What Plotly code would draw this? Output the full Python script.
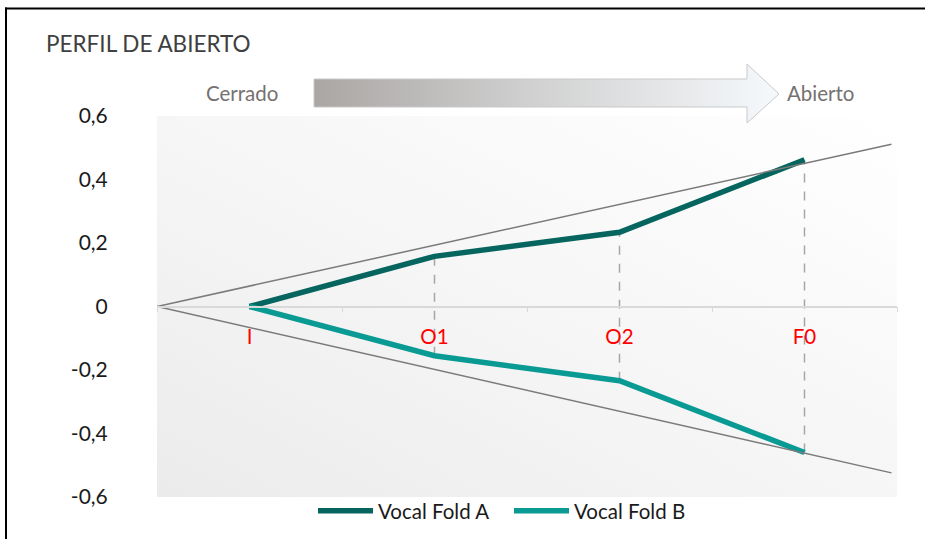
import base64
import plotly.graph_objects as go

# ---- data ----
categories = ["I", "O1", "O2", "F0"]
fold_a = [0, 0.158, 0.234, 0.462]
fold_b = [0, -0.155, -0.234, -0.46]
cone_x = [-0.5, 3.47]
cone_upper = [0, 0.511]
cone_lower = [0, -0.524]
y_tickvals = [-0.6, -0.4, -0.2, 0, 0.2, 0.4, 0.6]
y_ticktext = ["-0,6", "-0,4", "-0,2", "0", "0,2", "0,4", "0,6"]

FONT = "Lato"
W, H = 925, 539
# plot area in page coordinates: x 157..897, y 116..497
L, R, T, B = 157, 925 - 897, 116, 539 - 497

fig = go.Figure()

# high-low dashed lines
for c, a, b in zip(categories, fold_a, fold_b):
    fig.add_trace(go.Scatter(x=[c, c], y=[b, a], mode="lines",
                             line=dict(color="#a6a6a6", width=1.5, dash="dash"),
                             showlegend=False, hoverinfo="skip"))

# cone lines
for cy in (cone_upper, cone_lower):
    fig.add_trace(go.Scatter(x=cone_x, y=cy, xaxis="x2", mode="lines",
                             line=dict(color="#7a7a7a", width=1.5),
                             showlegend=False, hoverinfo="skip"))

fig.add_trace(go.Scatter(x=categories, y=fold_a, mode="lines", name="Vocal Fold A",
                         line=dict(color="#06665f", width=5.5)))
fig.add_trace(go.Scatter(x=categories, y=fold_b, mode="lines", name="Vocal Fold B",
                         line=dict(color="#0a9a94", width=5.5)))

# gradient background of plot area
bg_svg = ('<svg xmlns="http://www.w3.org/2000/svg" width="740" height="381" viewBox="0 0 740 381" preserveAspectRatio="none">'
          '<defs><linearGradient id="g" x1="0" y1="1" x2="1" y2="0">'
          '<stop offset="0" stop-color="#ebebeb"/><stop offset="0.45" stop-color="#f5f5f5"/>'
          '<stop offset="1" stop-color="#ffffff"/></linearGradient></defs>'
          '<rect width="740" height="381" fill="url(#g)"/></svg>')
# arrow
arrow_svg = ('<svg xmlns="http://www.w3.org/2000/svg" width="470" height="62" viewBox="0 0 470 62" preserveAspectRatio="none">'
             '<defs><linearGradient id="a" x1="0" y1="0" x2="1" y2="0">'
             '<stop offset="0" stop-color="#aaa6a4"/><stop offset="0.45" stop-color="#cfcfcf"/>'
             '<stop offset="1" stop-color="#f6f9fc"/></linearGradient></defs>'
             '<path d="M1,16 L434,16 L434,1 L466,31 L434,60 L434,44 L1,44 Z" fill="url(#a)" stroke="#c9c9c9" stroke-width="1"/></svg>')

def uri(s):
    return "data:image/svg+xml;base64," + base64.b64encode(s.encode()).decode()

pw, ph = W - L - R, H - T - B
def px(x):  # page x -> paper
    return (x - L) / pw
def py(y):  # page y -> paper
    return (H - B - y) / ph

fig.update_layout(
    images=[
        dict(source=uri(bg_svg), xref="paper", yref="paper", x=0, y=1, sizex=1, sizey=1,
             sizing="stretch", layer="below", xanchor="left", yanchor="top"),
        dict(source=uri(arrow_svg), xref="paper", yref="paper", x=px(313), y=py(63),
             sizex=470 / pw, sizey=62 / ph, sizing="stretch", layer="above",
             xanchor="left", yanchor="top"),
    ],
    shapes=[
        dict(type="line", xref="paper", yref="paper", x0=px(5), x1=px(940), y0=py(8.5), y1=py(8.5),
             line=dict(color="black", width=2), layer="above"),
        dict(type="line", xref="paper", yref="paper", x0=px(6), x1=px(6), y0=py(7.5), y1=py(560),
             line=dict(color="black", width=2), layer="above"),
    ],
    annotations=[
        dict(text="PERFIL DE ABIERTO", xref="paper", yref="paper", x=px(44), y=py(44),
             xanchor="left", yanchor="middle", showarrow=False,
             font=dict(family=FONT, size=22.5, color="#404040")),
        dict(text="Cerrado", xref="paper", yref="paper", x=px(242), y=py(93),
             xanchor="center", yanchor="middle", showarrow=False,
             font=dict(family=FONT, size=20.5, color="#767171")),
        dict(text="Abierto", xref="paper", yref="paper", x=px(820), y=py(93),
             xanchor="center", yanchor="middle", showarrow=False,
             font=dict(family=FONT, size=20.5, color="#767171")),
    ],
)

fig.update_layout(
    width=W, height=H,
    margin=dict(l=L, r=R, t=T, b=B, pad=0, autoexpand=False),
    paper_bgcolor="white", plot_bgcolor="rgba(0,0,0,0)",
    font=dict(family=FONT, size=17, color="black"),
    xaxis=dict(type="category", categoryorder="array", categoryarray=categories,
               range=[-0.5, 3.5], anchor="free", position=0.5,
               showline=True, linecolor="#d9d9d9", linewidth=1.5,
               ticks="outside", tickson="boundaries", ticklen=5, tickcolor="#d9d9d9",
               tickfont=dict(color="#ff0000", size=20.5, family=FONT),
               ticklabelstandoff=12, showgrid=False, zeroline=False, fixedrange=True,
               automargin=False),
    xaxis2=dict(overlaying="x", range=[-0.5, 3.5], visible=False, anchor="y", fixedrange=True),
    yaxis=dict(range=[-0.6, 0.6], tickvals=y_tickvals, ticktext=y_ticktext,
               showgrid=False, zeroline=False, showline=False,
               ticks="outside", ticklen=44, tickcolor="rgba(0,0,0,0)",
               tickfont=dict(size=21, color="#1a1a1a", family=FONT), fixedrange=True,
               automargin=False),
    legend=dict(orientation="h", xanchor="center", x=px(509), yanchor="top", y=py(491),
                font=dict(size=20.5, color="#1a1a1a", family=FONT), itemwidth=55,
                entrywidth=126, entrywidthmode="pixels",
                bgcolor="rgba(0,0,0,0)"),
    showlegend=True,
)

fig.write_html("out.html", config={"displayModeBar": False},
               post_script="document.body.style.margin='0';document.body.style.overflow='hidden';")
